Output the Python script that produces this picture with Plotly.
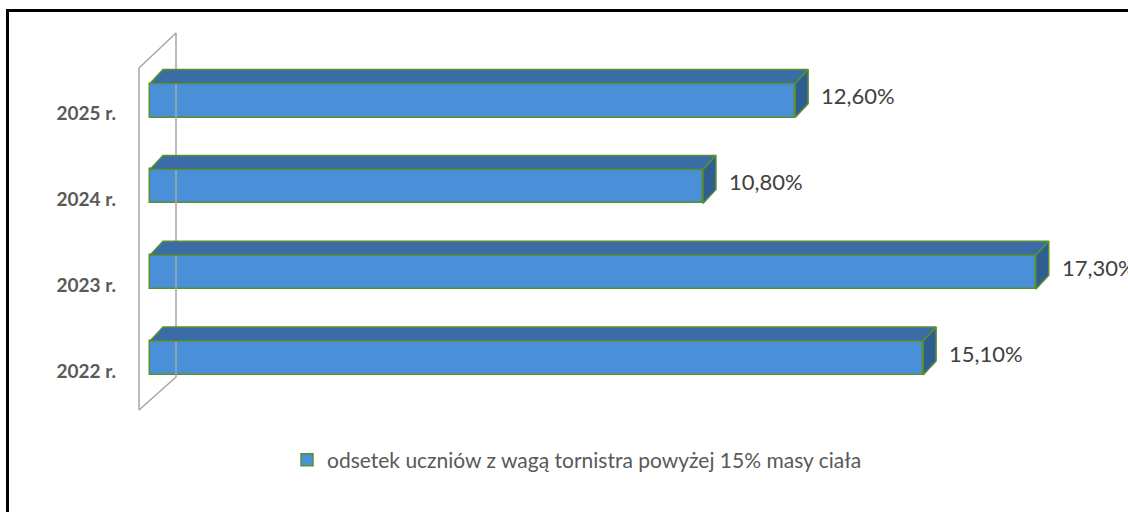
import plotly.graph_objects as go

# ---------------- data ----------------
categories = ["2022 r.", "2023 r.", "2024 r.", "2025 r."]
values = [15.1, 17.3, 10.8, 12.6]
value_labels = ["15,10%", "17,30%", "10,80%", "12,60%"]
series_name = "odsetek uczniów z wagą tornistra powyżej 15% masy ciała"

# ---------------- geometry (pixels) ----------------
W, H = 1128, 512
L, R, T, B = 130, 0, 20, 82
plot_w = W - L - R
plot_h = H - T - B
X0_PX = 150          # pixel where value 0 sits
PX_PER_PCT = 51.2
Y0_PX = 358          # pixel centre of first category
PX_PER_CAT = 85.8

def ux(px):  # pixel -> x data
    return (px - X0_PX) / PX_PER_PCT

def uy(py):  # pixel -> y data
    return (Y0_PX - py) / PX_PER_CAT

DX = 13 / PX_PER_PCT
DY = 14 / PX_PER_CAT
BW = 34 / PX_PER_CAT

FRONT = "#4A90D9"
TOP = "#3A6DA6"
SIDE = "#2F5E92"
EDGE = "#5B8F2E"
FONT = "Lato, Carlito, Calibri, sans-serif"

ypos = list(range(len(categories)))

fig = go.Figure()

# back wall (gray parallelogram)
wx = [ux(139), ux(176), ux(176), ux(139), ux(139)]
wy = [uy(68), uy(33), uy(377), uy(410), uy(68)]
fig.add_trace(go.Scatter(x=wx, y=wy, mode="lines",
                         line=dict(color="#A6A6A6", width=1.5),
                         hoverinfo="skip", showlegend=False))

# front faces
fig.add_trace(go.Bar(
    y=ypos, x=values, orientation="h", width=BW, name=series_name,
    marker=dict(color=FRONT, line=dict(color=EDGE, width=1.5)),
    showlegend=True,
))

# top and side faces
for i, v in zip(ypos, values):
    yt = i + BW / 2
    yb = i - BW / 2
    fig.add_trace(go.Scatter(
        x=[0, v, v + DX, DX, 0], y=[yt, yt, yt + DY, yt + DY, yt],
        mode="lines", fill="toself", fillcolor=TOP,
        line=dict(color=EDGE, width=1.5), hoverinfo="skip", showlegend=False))
    fig.add_trace(go.Scatter(
        x=[v, v + DX, v + DX, v, v], y=[yb, yb + DY, yt + DY, yt, yb],
        mode="lines", fill="toself", fillcolor=SIDE,
        line=dict(color=EDGE, width=1.5), hoverinfo="skip", showlegend=False))

# value labels
for i, v, lab in zip(ypos, values, value_labels):
    fig.add_annotation(x=v + DX, y=i, text=lab, showarrow=False,
                       xanchor="left", yanchor="middle", xshift=11, yshift=5,
                       font=dict(family=FONT, size=22, color="#404040"))

# outer frame
fig.add_shape(type="rect", xref="paper", yref="paper",
              x0=(7.5 - L) / plot_w, x1=1.05,
              y0=-0.5, y1=((H - B) - 10.5) / plot_h,
              line=dict(color="black", width=3), fillcolor="rgba(0,0,0,0)")

fig.update_layout(
    width=W, height=H,
    margin=dict(l=L, r=R, t=T, b=B, pad=0),
    paper_bgcolor="white", plot_bgcolor="white",
    bargap=0,
    xaxis=dict(range=[ux(L), ux(W - R)], visible=False, fixedrange=True),
    yaxis=dict(range=[uy(H - B), uy(T)],
               tickvals=[i - 0.15 for i in ypos], ticktext=categories,
               showgrid=False, zeroline=False, showline=False, ticks="",
               ticklabelstandoff=13,
               tickfont=dict(family=FONT, size=19, color="#595959", weight="bold")),
    showlegend=True,
    legend=dict(orientation="h", x=(287 - L) / plot_w, xanchor="left",
                y=((H - B) - 460) / plot_h, yanchor="middle",
                font=dict(family=FONT, size=21, color="#595959"),
                bgcolor="rgba(0,0,0,0)"),
    font=dict(family=FONT),
)

fig.write_html("out.html", config={"displayModeBar": False})
